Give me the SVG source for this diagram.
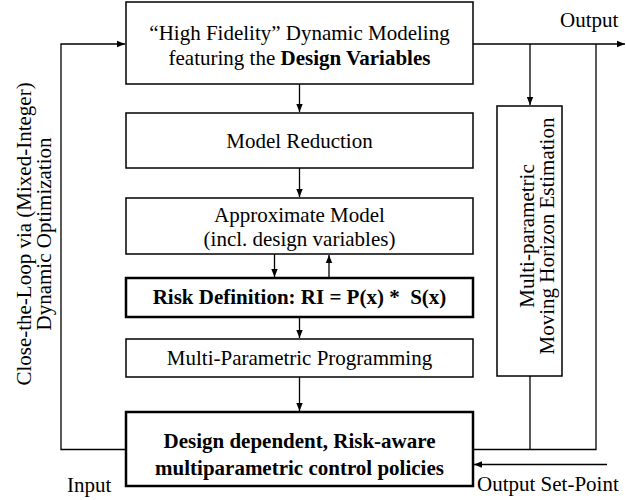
<svg xmlns="http://www.w3.org/2000/svg" width="626" height="500" viewBox="0 0 626 500">
<style>
text{font-family:"Liberation Serif","Times New Roman",serif;font-size:21px;fill:#000}
.c{text-anchor:middle}
.b{font-weight:bold}
.box{fill:#fff;stroke:#000;stroke-width:1.5}
.thick{stroke-width:2.5}
.ln{fill:none;stroke:#000;stroke-width:1.3}
</style>
<defs>
<marker id="ah" viewBox="0 0 10 10" refX="10" refY="5" markerWidth="8" markerHeight="8" markerUnits="userSpaceOnUse" orient="auto">
<path d="M0,1 L10,5 L0,9 Z" fill="#000"/>
</marker>
</defs>
<rect width="626" height="500" fill="#fff"/>
<g id="connectors">
<path class="ln" d="M126,449.5 H61 V44 H125" marker-end="url(#ah)"/>
<path class="ln" d="M299.5,84 V112" marker-end="url(#ah)"/>
<path class="ln" d="M299.5,168 V197" marker-end="url(#ah)"/>
<path class="ln" d="M274.5,254 V277" marker-end="url(#ah)"/>
<path class="ln" d="M329,277 V255" marker-end="url(#ah)"/>
<path class="ln" d="M299.5,317 V338" marker-end="url(#ah)"/>
<path class="ln" d="M299.5,377 V411" marker-end="url(#ah)"/>
<path class="ln" d="M473,44 H625" marker-end="url(#ah)"/>
<path class="ln" d="M530,44 V105" marker-end="url(#ah)"/>
<path class="ln" d="M596,44 V449.5 H473"/>
<path class="ln" d="M530,376 V449.5"/>
<path class="ln" d="M607,464.5 H474" marker-end="url(#ah)"/>
</g>
<g id="hifi">
<rect class="box" x="126" y="2" width="347" height="82"/>
<text class="c" x="299.5" y="40">“High Fidelity” Dynamic Modeling</text>
<text class="c" x="299.5" y="65">featuring the <tspan class="b">Design Variables</tspan></text>
</g>
<g id="reduction">
<rect class="box" x="126" y="113" width="347" height="55"/>
<text class="c" x="299.5" y="148">Model Reduction</text>
</g>
<g id="approx">
<rect class="box" x="126" y="198" width="347" height="56"/>
<text class="c" x="299.5" y="222">Approximate Model</text>
<text class="c" x="299.5" y="246">(incl. design variables)</text>
</g>
<g id="risk">
<rect class="box thick" x="126" y="278" width="347" height="39"/>
<text class="c b" x="299.5" y="304" xml:space="preserve">Risk Definition: RI = P(x) *  S(x)</text>
</g>
<g id="mpp">
<rect class="box" x="126" y="339" width="347" height="38"/>
<text class="c" x="299.5" y="365">Multi-Parametric Programming</text>
</g>
<g id="policies">
<rect class="box thick" x="126" y="412" width="347" height="74"/>
<text class="c b" x="299.5" y="448">Design dependent, Risk-aware</text>
<text class="c b" x="299.5" y="475">multiparametric control policies</text>
</g>
<g id="mhe">
<rect class="box" x="497" y="106" width="65" height="270"/>
<text class="c" transform="translate(534,236) rotate(-90)">Multi-parametric</text>
<text class="c" transform="translate(554,236) rotate(-90)">Moving Horizon Estimation</text>
</g>
<g id="labels">
<text x="560" y="27">Output</text>
<text x="67" y="492">Input</text>
<text x="477" y="491">Output Set-Point</text>
<text class="c" transform="translate(31,234) rotate(-90)">Close-the-Loop via (Mixed-Integer)</text>
<text class="c" transform="translate(51,234) rotate(-90)">Dynamic Optimization</text>
</g>
</svg>
